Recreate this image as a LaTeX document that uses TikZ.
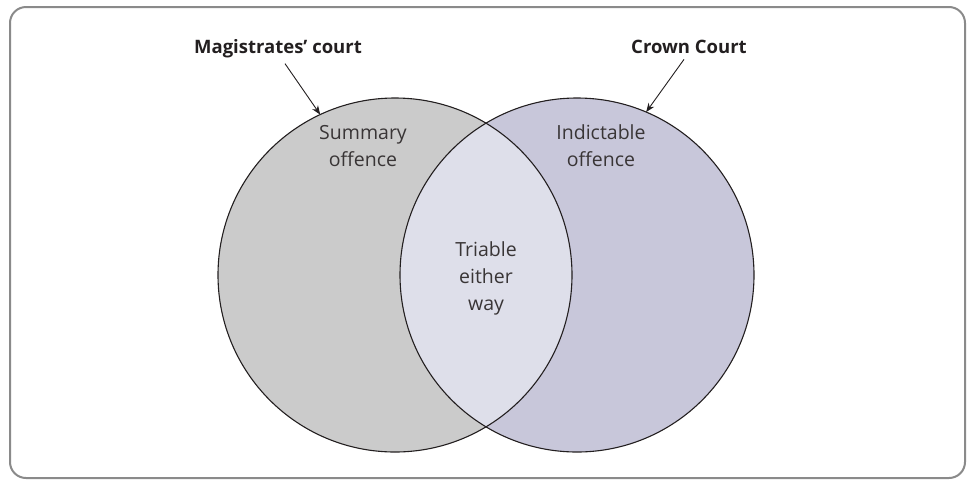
\documentclass[tikz,border=0pt]{standalone}
\usepackage{fontspec}
\setmainfont{Open Sans}
\usetikzlibrary{arrows.meta}
\definecolor{sumgray}{HTML}{CBCBCB}
\definecolor{indlav}{HTML}{C8C7DA}
\definecolor{lensblue}{HTML}{DEDFEA}
\definecolor{framegray}{HTML}{8A8A8A}
\definecolor{ink}{HTML}{231F20}
\begin{document}
\begin{tikzpicture}[x=1pt,y=-1pt,
  frame/.style={draw=framegray, line width=2pt, rounded corners=16pt},
  setcircle/.style={circle, minimum size=354pt, inner sep=0pt, outer sep=0pt},
  outline/.style={draw=ink, line width=1.1pt},
  courtlabel/.style={font=\fontsize{18.5}{22}\selectfont\bfseries, text=ink, inner sep=0pt, anchor=base},
  areatext/.style={font=\fontsize{19.5}{27}\selectfont, text=ink!90, align=center, inner sep=0pt, anchor=base},
  pointer/.style={draw=ink, line width=0.9pt, -{Stealth[length=9pt,width=7pt]}}]
\useasboundingbox (0,0) rectangle (967,480);
% outer frame
\draw[frame] (10,7) rectangle (965,478);
% the two sets
\node[setcircle, fill=sumgray] (lc) at (395,275) {};
\node[setcircle, fill=indlav] (rc) at (577,275) {};
% overlap of the two sets
\begin{scope}
  \clip (lc.center) circle (177);
  \fill[lensblue] (rc.center) circle (177);
\end{scope}
\draw[outline] (lc.center) circle (177);
\draw[outline] (rc.center) circle (177);
% texts (base anchor sits on the last line)
\node[courtlabel] (mag) at (278,53) {Magistrates’ court};
\node[courtlabel] (crown) at (689,53) {Crown Court};
\node[areatext] (summ) at (363,166) {Summary\\offence};
\node[areatext] (indi) at (601,166) {Indictable\\offence};
\node[areatext] (both) at (486,310) {Triable\\either\\way};
% pointers to the sets
\draw[pointer] ([xshift=7pt,yshift=-6pt]mag.south) -- (lc.115);
\draw[pointer] ([xshift=-5pt,yshift=-6pt]crown.south) -- (rc.67);
\end{tikzpicture}
\end{document}
